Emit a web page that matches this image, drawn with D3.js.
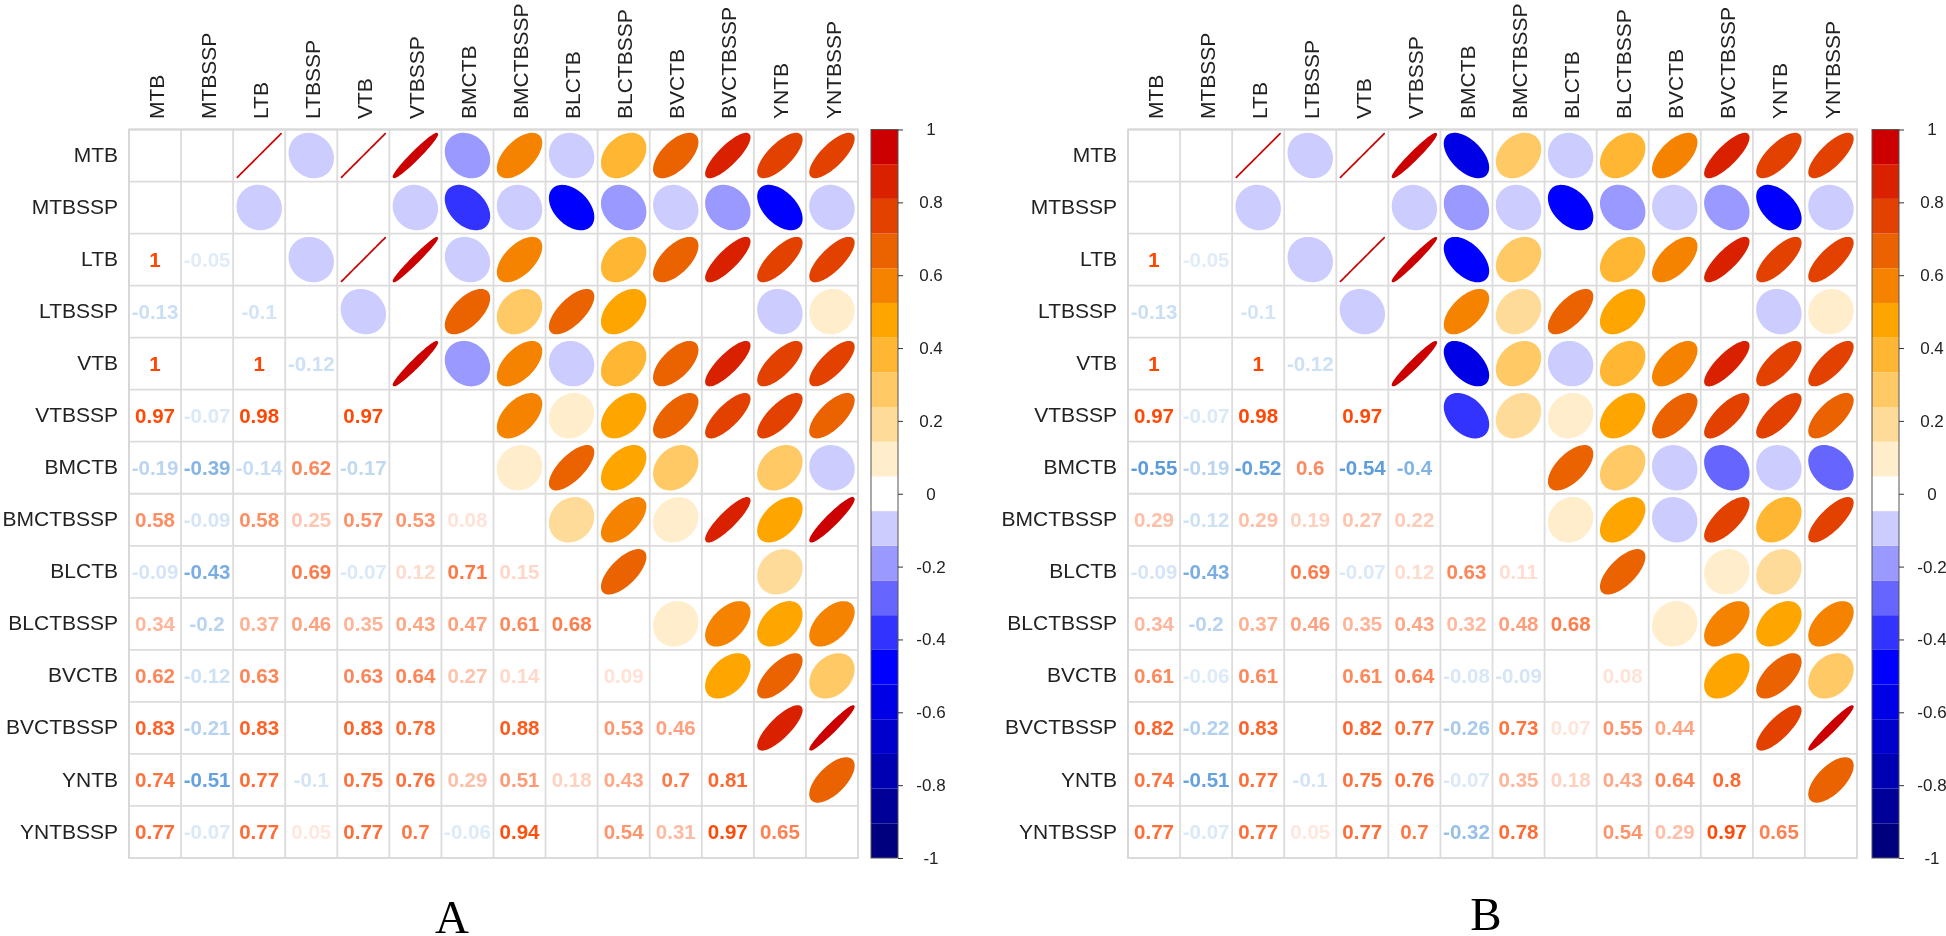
<!DOCTYPE html>
<html><head><meta charset="utf-8">
<script src="https://cdnjs.cloudflare.com/ajax/libs/d3/7.8.5/d3.min.js"></script>
<style>
html,body{margin:0;padding:0;background:#fff;overflow:hidden}
svg{display:block;filter:blur(0.55px)}
text{font-family:"Liberation Sans",Arial,sans-serif}
</style></head><body>
<svg id="c" width="1946" height="936"></svg>
<script>
const variables = ["MTB","MTBSSP","LTB","LTBSSP","VTB","VTBSSP","BMCTB","BMCTBSSP","BLCTB","BLCTBSSP","BVCTB","BVCTBSSP","YNTB","YNTBSSP"];
// lower triangle, row by row; null = cell left blank in the reference
const corrA = [
 [],
 [null],
 [1,-0.05],
 [-0.13,null,-0.1],
 [1,null,1,-0.12],
 [0.97,-0.07,0.98,null,0.97],
 [-0.19,-0.39,-0.14,0.62,-0.17,null],
 [0.58,-0.09,0.58,0.25,0.57,0.53,0.08],
 [-0.09,-0.43,null,0.69,-0.07,0.12,0.71,0.15],
 [0.34,-0.2,0.37,0.46,0.35,0.43,0.47,0.61,0.68],
 [0.62,-0.12,0.63,null,0.63,0.64,0.27,0.14,null,0.09],
 [0.83,-0.21,0.83,null,0.83,0.78,null,0.88,null,0.53,0.46],
 [0.74,-0.51,0.77,-0.1,0.75,0.76,0.29,0.51,0.18,0.43,0.7,0.81],
 [0.77,-0.07,0.77,0.05,0.77,0.7,-0.06,0.94,null,0.54,0.31,0.97,0.65]
];
const corrB = [
 [],
 [null],
 [1,-0.05],
 [-0.13,null,-0.1],
 [1,null,1,-0.12],
 [0.97,-0.07,0.98,null,0.97],
 [-0.55,-0.19,-0.52,0.6,-0.54,-0.4],
 [0.29,-0.12,0.29,0.19,0.27,0.22,null],
 [-0.09,-0.43,null,0.69,-0.07,0.12,0.63,0.11],
 [0.34,-0.2,0.37,0.46,0.35,0.43,0.32,0.48,0.68],
 [0.61,-0.06,0.61,null,0.61,0.64,-0.08,-0.09,null,0.08],
 [0.82,-0.22,0.83,null,0.82,0.77,-0.26,0.73,0.07,0.55,0.44],
 [0.74,-0.51,0.77,-0.1,0.75,0.76,-0.07,0.35,0.18,0.43,0.64,0.8],
 [0.77,-0.07,0.77,0.05,0.77,0.7,-0.32,0.78,null,0.54,0.29,0.97,0.65]
];
const palette = ["#00007f","#000099","#0000b3","#0000cc","#0000e6","#0000ff","#3333ff","#6666ff","#9999ff","#ccccff","#ffffff",
                 "#ffedcc","#ffdb99","#ffc966","#ffb733","#ffa500","#f58300","#eb6200","#e34100","#d92100","#cc0000"];
const legendTicks = [1,0.8,0.6,0.4,0.2,0,-0.2,-0.4,-0.6,-0.8,-1];
const panelLetters = ["A","B"];

const svg = d3.select("#c");
const fill = d3.scaleQuantize().domain([-1,1]).range(palette);
const textPos = d3.scaleLinear().domain([0,1]).range(["#fff0ea","#ff4500"]);
const textNeg = d3.scaleLinear().domain([0,0.55]).range(["#edf4fc","#5a9bdc"]).clamp(true);
const textColor = r => r >= 0 ? textPos(r) : textNeg(-r);

const angles = d3.range(0, 2*Math.PI, Math.PI/40);

function panel(corr, x0, barX, letter, letterX, letterY) {
  const top = 129.5, bottom = 858, right = x0 + 729;
  const x = d3.scaleBand().domain(variables).range([x0,right]);
  const y = d3.scaleBand().domain(variables).range([top,bottom]);
  const g = svg.append("g");
  const half = x.bandwidth()*0.42;

  const cells = [];
  corr.forEach((row,i)=>row.forEach((r,j)=>{ if(r!==null) cells.push({i,j,r}); }));

  // grid
  g.selectAll(".gv").data(variables).join("line").attr("x1",d=>x(d)).attr("x2",d=>x(d)).attr("y1",top).attr("y2",bottom);
  g.selectAll(".gh").data(variables).join("line").attr("class","h").attr("y1",d=>y(d)).attr("y2",d=>y(d)).attr("x1",x0).attr("x2",right);
  g.append("rect").attr("x",x0).attr("y",top).attr("width",right-x0).attr("height",bottom-top).attr("fill","none").attr("stroke","#d8d8d8").attr("stroke-width",1.8);
  g.selectAll("line").attr("stroke","#dcdcdc").attr("stroke-width",1.8);

  // ellipses in the upper triangle
  const ellipse = r => {
    const d = Math.acos(Math.max(-1,Math.min(1,r)));
    const sx = d3.scaleLinear().domain([-1,1]).range([-half,half]);
    const sy = d3.scaleLinear().domain([-1,1]).range([half,-half]);
    return d3.line().x(t=>sx(Math.cos(t+d/2))).y(t=>sy(Math.cos(t-d/2))).curve(d3.curveLinearClosed)(angles);
  };
  g.selectAll(".e").data(cells).join("path")
    .attr("transform",d=>`translate(${x(variables[d.i])+x.bandwidth()/2},${y(variables[d.j])+y.bandwidth()/2})`)
    .attr("d",d=>ellipse(d.r))
    .attr("fill",d=>fill(d.r)).attr("stroke",d=>fill(d.r)).attr("stroke-width",1.7).attr("stroke-linejoin","round");

  // numbers in the lower triangle
  g.selectAll(".v").data(cells).join("text")
    .attr("x",d=>x(variables[d.j])+x.bandwidth()/2)
    .attr("y",d=>y(variables[d.i])+y.bandwidth()/2)
    .attr("dy","0.36em").attr("text-anchor","middle")
    .attr("font-size",20.5).attr("font-weight","bold")
    .attr("fill",d=>textColor(d.r)).text(d=>d.r);

  // labels
  g.selectAll(".rl").data(variables).join("text")
    .attr("x",x0-11).attr("y",d=>y(d)+y.bandwidth()/2-1).attr("dy","0.36em")
    .attr("text-anchor","end").attr("font-size",21).attr("fill","#222").text(d=>d);
  g.selectAll(".cl").data(variables).join("text")
    .attr("transform",d=>`translate(${x(d)+x.bandwidth()/2+1},119) rotate(-90)`)
    .attr("dy","0.36em").attr("font-size",21).attr("fill","#222").text(d=>d);

  // colour bar
  const barW = 27;
  const bar = d3.scaleLinear().domain([1,-1]).range([top,bottom]);
  const b = svg.append("g");
  b.selectAll("rect").data(palette).join("rect")
    .attr("x",barX).attr("width",barW)
    .attr("y",c=>bar(fill.invertExtent(c)[1]))
    .attr("height",c=>bar(fill.invertExtent(c)[0])-bar(fill.invertExtent(c)[1]))
    .attr("fill",c=>c);
  b.append("rect").attr("x",barX).attr("y",top).attr("width",barW).attr("height",bottom-top)
    .attr("fill","none").attr("stroke","#555").attr("stroke-width",1);
  const axis = d3.axisRight(bar).tickValues(legendTicks).tickSize(5).tickFormat(d=>String(d));
  const ag = b.append("g").attr("transform",`translate(${barX+barW},0)`).call(axis);
  ag.select(".domain").remove();
  ag.selectAll("line").attr("stroke","#333");
  ag.selectAll("text").attr("x",33).attr("text-anchor","middle").attr("font-size",17)
    .attr("font-family","Liberation Sans").attr("fill","#222");

  svg.append("text").attr("x",letterX).attr("y",letterY).attr("text-anchor","middle")
    .attr("font-size",47).attr("fill","#000").style("font-family","'Liberation Serif',serif").text(letter);
}
panel(corrA, 129, 871, panelLetters[0], 452, 933);
panel(corrB, 1128, 1872, panelLetters[1], 1486, 930);
</script></body></html>
